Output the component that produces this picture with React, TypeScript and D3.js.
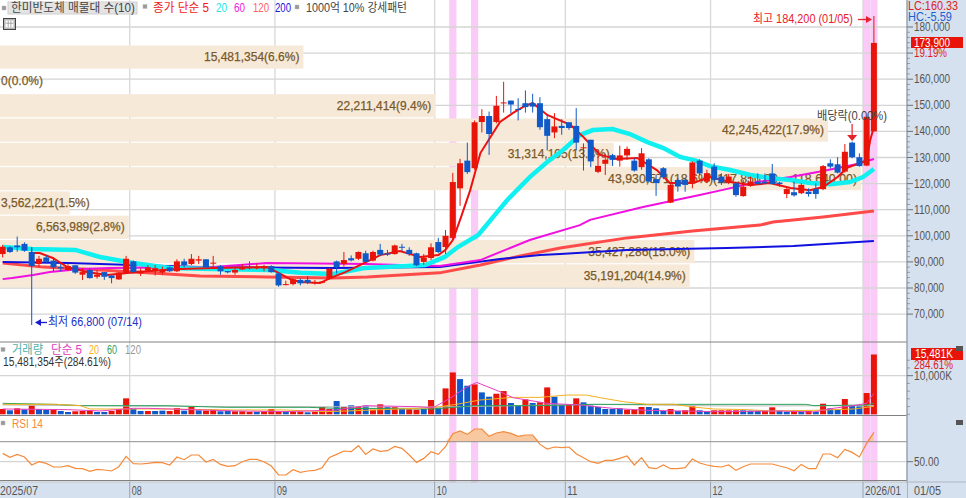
import React from "react";
import * as d3 from "d3";

const opens = [
93.0,95.6,96.3,96.9,93.8,89.2,91.7,90.5,88.0,86.9,
88.7,85.1,86.9,84.3,86.1,84.8,83.3,85.9,90.2,85.6,
86.6,86.4,85.9,87.9,86.4,90.2,89.2,90.5,91.0,89.4,
88.4,86.5,85.9,87.1,87.7,87.7,87.7,88.4,85.6,81.3,
81.5,83.1,83.1,81.8,82.0,83.6,90.2,89.2,91.4,91.2,
93.3,90.5,94.6,93.3,93.0,95.8,94.6,93.3,90.0,91.5,
97.6,95.7,99.2,118.2,128.8,125.9,143.6,145.9,143.6,150.8,
151.8,148.6,150.8,150.8,150.8,144.7,139.6,142.1,143.5,142.1,
133.7,136.8,124.5,127.6,130.9,128.8,130.8,128.8,126.3,129.3,
121.7,125.9,112.7,121.4,121.4,120.1,128.8,120.8,126.5,122.7,
120.4,120.1,115.2,119.1,120.7,120.7,123.9,120.4,116.0,116.7,
116.3,116.9,117.9,117.9,127.8,127.4,124.6,135.7,130.1,126.9,
140.0];
const closes = [
95.8,93.8,95.6,94.3,88.4,91.2,90.0,87.9,87.5,88.4,
85.9,86.1,83.8,85.1,84.3,83.8,85.9,91.2,86.1,86.6,
87.9,87.6,87.1,86.4,90.2,88.7,91.2,91.0,87.9,89.7,
86.4,86.0,86.9,87.9,87.9,87.9,87.9,86.1,81.0,81.5,
83.3,81.8,82.0,82.2,82.5,87.4,87.9,90.7,90.6,93.8,
90.0,93.8,92.8,92.8,96.3,95.6,93.0,88.7,91.7,95.6,
93.8,100.0,120.6,127.8,124.4,143.5,145.9,139.0,149.8,151.1,
150.3,148.2,149.3,149.5,141.6,138.3,141.9,141.3,141.3,135.7,
133.9,128.5,126.8,129.1,129.1,130.8,133.3,125.0,131.6,120.8,
120.2,122.4,119.5,118.9,119.5,128.1,123.9,124.0,121.4,120.4,
122.7,115.6,118.8,120.7,119.8,120.1,119.8,119.8,117.9,115.5,
119.5,116.0,116.0,126.7,126.5,124.2,132.2,130.1,126.7,145.6,
173.9];
const highs = [
96.5,96.0,99.7,97.5,95.6,92.3,92.6,91.7,89.2,89.4,
88.7,87.5,87.7,86.9,86.1,84.8,86.1,92.3,90.5,87.5,
88.8,88.8,88.2,88.2,91.0,91.2,93.0,92.3,91.0,92.3,
88.8,86.5,87.5,89.2,90.2,89.4,88.9,88.7,85.9,82.8,
83.7,83.6,84.6,83.1,82.5,87.7,90.5,93.8,92.5,94.0,
94.3,94.3,96.9,94.6,96.6,96.9,95.6,93.5,93.0,97.1,
99.2,102.2,124.1,129.5,135.7,144.2,148.5,147.6,153.6,159.0,
151.8,152.7,155.7,154.4,153.1,146.3,147.0,144.7,143.5,148.9,
135.4,136.8,132.9,131.4,131.4,134.5,134.2,129.7,133.6,129.7,
123.3,126.3,119.9,122.1,122.1,128.5,129.3,125.3,127.8,123.9,
123.7,120.7,121.4,122.7,123.9,123.9,127.5,120.7,118.8,120.7,
120.1,118.2,120.1,127.1,129.3,130.1,135.2,136.1,131.6,145.6,
184.2];
const lows = [
91.7,93.4,93.9,93.9,88.2,87.9,89.4,86.3,86.3,86.6,
85.4,83.1,83.6,83.6,83.1,81.8,83.1,85.4,85.6,84.6,
86.4,84.8,85.1,86.1,86.1,87.9,88.8,89.2,87.9,87.9,
85.1,85.6,85.1,86.9,87.1,87.1,86.4,85.9,80.5,81.0,
81.0,81.0,81.5,81.3,81.8,83.3,85.6,88.2,90.2,90.7,
89.7,90.2,92.3,92.3,92.8,94.0,92.3,88.4,88.9,90.7,
93.4,93.0,98.5,111.5,123.7,125.3,139.6,131.0,143.1,147.2,
147.0,144.2,147.2,147.2,140.6,132.7,137.4,138.7,140.6,132.7,
125.0,126.3,124.0,123.3,126.8,126.5,129.1,124.6,125.3,120.4,
115.3,121.7,112.5,116.9,116.9,118.2,123.3,120.2,120.7,119.5,
119.8,115.0,115.0,118.8,119.5,119.8,119.8,118.8,114.4,115.0,
116.0,115.0,114.2,117.5,125.8,123.9,124.2,129.7,126.5,126.7,
140.0];

const ma5Idx = [3.9,5.1,6.9,8.9,11.6,14.4,17.5,20.3,24.4,29,36.4,37.8,39.6,41,43.7,45.1,47.2,49.2,52,54.7,57.5,60,61,62,63,64.4,65.8,68.5,70.3,71.7,73,75,78.2,80,82.3,84.6,87.4,90.1,91.9,95.1,97.4,100.2,103,105.7,108.5,111.2,113,115,116.3,118.1,119,119.5,120];
const ma5Val = [93.4,93.4,91.5,88,86.1,85,85.8,86.5,87.3,87.7,88,86.1,83.4,82.3,81.9,83.8,86.1,88.8,92.6,94.2,91.9,92.6,94.6,98.4,106.1,117.5,131.7,143.6,147.1,149.4,150.9,146.3,142.5,137.8,131,129.4,129.8,125.2,120.2,120.2,122.5,120.6,119.5,120.2,118.3,117.5,118.7,122.5,126,127.9,129,136.7,141.7];
const ma20Idx = [0,4,10,13.4,18,23,29,37,41,45.5,50,58.2,60.9,62.7,65.5,67.8,69.5,72.6,75,77.2,79.5,81.3,84,86.4,88.8,91,93.3,95.6,97.4,100.2,103,105.7,108.5,111.2,114,116.7,118.5,120];
const ma20Val = [95.7,94.9,94.6,91.9,89.6,87.7,87.3,86.9,85.8,85.4,87.7,88.8,91.9,95.7,100.3,108,113.7,122.5,128.3,132.9,138.6,140.5,140.9,139,135.9,133.6,130.2,128.7,126.7,125.2,123.3,122.1,121.4,120.2,119.8,120.6,122.5,125.6];
const ma60Idx = [0,1.3,4.2,6.5,10.7,14.8,29,36.4,50.2,60.2,65.8,72.6,79.5,80.9,88.2,96,99.2,103.9,108.5,113,117.7,120];
const ma60Val = [83.4,83.8,85,86.1,87.3,87.7,88,89.6,89.2,88.4,90.7,98.4,104.1,106.1,111,115.6,117.6,120.6,122.5,124.8,127.5,129.4];
const ma120Idx = [0,5.6,13.4,19.9,27.2,36.4,45.5,50.2,60.2,65.8,71.3,76.8,86,95,104.3,106.1,113,120];
const ma120Val = [89.6,88,86.9,85.8,84.6,84.2,83.8,84.2,85.8,88.8,92.3,95.3,99.2,101.8,104.1,105.3,107.2,109.5];
const ma200Idx = [0,9,18,27,45.5,60.2,68.5,74,76.8,86,99.8,108.9,120];
const ma200Val = [90,89.6,88.8,88,87.7,88,91.1,92.6,93,94.6,95.3,96.1,98];

const volumes = [
1376,1032,1548,1290,2322,1376,1118,1376,860,602,
774,860,1032,602,602,860,1376,4128,1376,860,
860,860,946,860,1634,946,1892,1032,946,1204,
774,946,774,774,602,602,774,1376,688,774,
688,688,516,688,1892,1376,3440,1892,2322,1978,
2236,1204,2580,1892,1892,1376,1290,1204,1376,3698,
1720,6708,10836,9116,7396,7740,5676,4558,5332,6020,
2924,2236,3870,2924,3096,6966,4558,2408,2666,4128,
3096,2236,1892,1376,1376,1548,1204,1204,1892,1892,
1548,860,1376,860,1032,2064,1032,688,1032,1032,
1032,1032,1032,946,946,946,1806,946,688,946,
688,860,688,2752,1548,1204,3956,2236,2064,5504,
15481];
const volumeDirection =
"rbrbrbbrbb"+"rrrbbrrrbb"+"rbbrrbrbrr"+"bbrrrbrrrb"+"rrbrrrbrbr"+"brrbrbrrbr"+"brrbbr"+"bbrr"+
"bbrbrrbbrr"+"bbbbbbrrrb"+"bbrbrrbbrr"+"rrbbbrrbbr"+"brbrbbrbbrr";

const vol5Idx = [0,9,13.4,18,20,32,39,46,50,57,59.3,61.6,64,65.3,68.5,70.3,75,79.5,84,88.7,98,107,111.7,114.4,117.2,119,120];
const vol5Val = [1376,1204,860,1548,1548,860,688,1118,2236,1978,1720,4128,7138,8256,5848,4300,2838,2408,1548,1032,688,860,602,1548,2236,2838,5418];
const vol20Idx = [0,7.4,10.7,12,22.6,31.8,38.7,44.6,50,59.3,62.5,65.75,70.3,74,77.7,80.4,82.3,85.5,88.7,92.4,95.1,97.9,102.5,105.7,111.7,117.2,120];
const vol20Val = [2580,2580,2236,1376,1376,1118,1118,688,1032,1720,2580,3698,4386,4386,4988,4988,4300,3268,2580,2580,1892,1376,1204,860,1032,1376,2064];
const vol60Idx = [0,7,11,22.6,30.7,42,46,59.3,65,74,81.4,88.7,110.7,111.7,119,120];
const vol60Val = [2838,2580,2236,2236,1806,1806,1548,1376,2236,2236,2580,2580,2580,2236,2408,2838];
const vol120Idx = [0,22,60,81,100,120];
const vol120Val = [2408,2064,1892,2580,2150,2236];

const rsi = [
58.3,54.3,57.3,54.7,46.7,50,48.3,44.7,44.7,46,43.3,43,40.3,42.3,41.7,40.7,45,55.3,48,47.7,
48.3,49.3,49,46.7,54.7,52,56.7,56.7,49.7,52.3,47.3,45.3,46,50,52.3,52.3,50,45.7,36.7,36.7,
42,39.3,40.7,41.3,44,54.3,57.3,60.7,60,66,57.3,62.7,60.3,61,65.3,63.3,56.7,49.3,53.3,60,
57.3,65,78,80.7,77.3,82.7,82.7,75.3,78.7,80,78.3,75.3,76.7,76.7,67.3,62.7,64.7,64,64.7,58,
54,50,48.3,51.3,51.3,53.3,55.7,46.7,54,44,43,46.7,43,43,44,52.7,48.7,46.7,45.3,44.7,46.7,
41.3,45,47.7,47.7,47.7,47.7,45.7,44,41,47.3,43,43,57.7,57.7,54,62.3,59.3,54.7,68.3,79.3];

const monthStarts = [18, 38, 60, 78, 98, 119];
const monthLabels = ["08", "09", "10", "11", "12", "2026/01"];
const patternDays = [62, 65, 119, 120];
const priceTicks = [70, 80, 90, 100, 110, 120, 130, 140, 150, 160, 170, 180];

const profileVolumes = [15481354, 0, 22211414, 42245422, 31314105, 43930571, 3562221, 6563989, 35427286, 35191204];
const profileLabels = [
  "15,481,354(6.6%)", "0(0.0%)", "22,211,414(9.4%)", "42,245,422(17.9%)", "31,314,105(13.3%)",
  "43,930,571(18.6%)(117,850.00 ~ 118,640.00)", "3,562,221(1.5%)", "6,563,989(2.8%)", "35,427,286(15.0%)", "35,191,204(14.9%)",
];

const W = 966, H = 498;
const PLOT_R = 907;
const FONT = "'Liberation Sans','Noto Sans CJK KR',sans-serif";
const RED = "#e8140a", BLUE = "#0f5ac8";

const x = d3.scaleLinear().domain([0, 120]).range([2.67, 873.9]);
const y = d3.scaleLinear().domain([70, 180]).range([314.1, 27]);
const yVol = d3.scaleLinear().domain([0, 15481]).range([414.3, 354.5]);
const yRsi = d3.scaleLinear().domain([50, 70]).range([461.7, 441.7]);
const profW = d3.scaleLinear().domain([0, 42245422]).range([0, 828]);
const profY = d3.scaleBand<number>().domain(d3.range(10)).range([45.5, 287.5]).paddingInner(0.05);
const step = x(1) - x(0);

type Pt = [number, number];
const zip = (a: number[], b: number[]): Pt[] => a.map((v, i) => [v, b[i]]);
const lineP = d3.line<Pt>().x(d => x(d[0])).y(d => y(d[1]));
const lineV = d3.line<Pt>().x(d => x(d[0])).y(d => yVol(d[1]));
const rsiLine = d3.line<number>().x((_, i) => x(i)).y(d => yRsi(d));
const rsiArea = d3.area<number>().x((_, i) => x(i)).y0(yRsi(70)).y1(d => yRsi(Math.max(d, 70)));

function T(p: { x: number; y: number; w?: number; fill?: string; size?: number; anchor?: string; weight?: number; stroke?: number; children: any }) {
  const extra: any = p.w ? { textLength: p.w, lengthAdjust: "spacingAndGlyphs" } : {};
  return (
    <text x={p.x} y={p.y} fill={p.fill ?? "#444"} fontSize={p.size ?? 12} fontFamily={FONT}
      textAnchor={(p.anchor ?? "start") as any} dominantBaseline="central"
      stroke={p.stroke ? p.fill : undefined} strokeWidth={p.stroke} {...extra}>{p.children}</text>
  );
}
const Sq = ({ x: sx, y: sy }: { x: number; y: number }) => (
  <rect x={sx} y={sy} width={4} height={4} fill="#999" stroke="#bbb" strokeWidth={0.5} />
);

export default function App() {
  const fmt = d3.format(",");
  return (
    <svg width={W} height={H} viewBox={`0 0 ${W} ${H}`} style={{ position: "absolute", left: 0, top: 0, background: "#fff" }}>
      {/* pattern highlights */}
      {patternDays.map(d => (
        <rect key={d} x={x(d) - step / 2} y={0} width={step} height={482.5} fill="#fbcbf8" />
      ))}

      {/* grid */}
      {priceTicks.map(t => <line key={t} x1={0} x2={PLOT_R} y1={y(t)} y2={y(t)} stroke="#d4d4d4" strokeWidth={1.3} />)}
      <line x1={0} x2={PLOT_R} y1={yVol(10000)} y2={yVol(10000)} stroke="#d4d4d4" strokeWidth={1.3} />
      <line x1={0} x2={PLOT_R} y1={yRsi(50)} y2={yRsi(50)} stroke="#d4d4d4" strokeWidth={1.3} />
      {monthStarts.map(m => (
        <line key={m} x1={x(m) - step / 2} x2={x(m) - step / 2} y1={0} y2={482} stroke="#d8d8d8" strokeWidth={1.3} />
      ))}

      {/* volume profile */}
      {profileVolumes.map((v, i) => {
        const w = profW(v);
        const label = profileLabels[i];
        const wide = w > label.length * 5.95 + 4;
        const fitted = label.length > 30;
        return (
          <g key={i}>
            <rect x={0} y={profY(i)!} width={w} height={profY.bandwidth()} fill="#f6e9d8" />
            <T x={fitted ? w - 253 : wide ? w - 4 : 1} y={profY(i)! + profY.bandwidth() / 2} anchor={fitted || !wide ? "start" : "end"} w={fitted ? 249 : undefined} fill="#79592a" stroke={0.25}>
              {label}
            </T>
          </g>
        );
      })}

      {/* moving averages */}
      <path d={lineP(zip(ma120Idx, ma120Val))!} fill="none" stroke="#ff4a4a" strokeWidth={3} />
      <path d={lineP(zip(ma200Idx, ma200Val))!} fill="none" stroke="#1010e0" strokeWidth={2} />
      <path d={lineP(zip(ma60Idx, ma60Val))!} fill="none" stroke="#f010e0" strokeWidth={2} />
      <path d={lineP(zip(ma20Idx, ma20Val))!} fill="none" stroke="#10f0f0" strokeWidth={4.5} />
      <path d={lineP(zip(ma5Idx, ma5Val))!} fill="none" stroke="#ee1010" strokeWidth={2} />

      {/* candles */}
      {closes.map((c, i) => {
        const up = c >= opens[i];
        const col = up ? RED : BLUE;
        const top = y(Math.max(c, opens[i]));
        const bot = y(Math.min(c, opens[i]));
        return (
          <g key={i}>
            <line x1={x(i)} x2={x(i)} y1={y(highs[i])} y2={y(lows[i])} stroke={col} strokeWidth={1} />
            <rect x={x(i) - 3} y={top} width={6} height={Math.max(1, bot - top)} fill={col} />
          </g>
        );
      })}

      {/* price annotations */}
      <T x={753} y={19} w={100} fill="#e8202a">최고 184,200 (01/05)</T>
      <line x1={858} x2={867} y1={19.5} y2={19.5} stroke="#e8202a" strokeWidth={1.3} />
      <path d="M866,16 L872,19.5 L866,23 Z" fill="#e8202a" />
      <line x1={x(4)} x2={x(4)} y1={y(highs[4])} y2={325} stroke="#1a50c0" strokeWidth={1} />
      <path d="M35,322.5 L41,319 L41,326 Z" fill="#1a1ad0" />
      <line x1={40} x2={47} y1={322.5} y2={322.5} stroke="#1a1ad0" strokeWidth={1.3} />
      <T x={48} y={322} w={94} fill="#2030c8">최저 66,800 (07/14)</T>
      <T x={817} y={116} w={70} fill="#444">배당락(0.00%)</T>
      <line x1={x(117)} x2={x(117)} y1={124} y2={136} stroke="#e8202a" strokeWidth={1.2} />
      <path d={`M${x(117) - 5},135 L${x(117) + 5},135 L${x(117)},141 Z`} fill="#e8202a" />

      {/* volume pane */}
      {volumes.map((v, i) => (
        <rect key={i} x={x(i) - 3} y={yVol(v)} width={6} height={yVol(0) - yVol(v)} fill={volumeDirection[i] === "r" ? RED : BLUE} />
      ))}
      <path d={lineV(zip(vol120Idx, vol120Val))!} fill="none" stroke="#bdbdbd" strokeWidth={1} />
      <path d={lineV(zip(vol60Idx, vol60Val))!} fill="none" stroke="#2aa058" strokeWidth={1} />
      <path d={lineV(zip(vol20Idx, vol20Val))!} fill="none" stroke="#f5b020" strokeWidth={1} />
      <path d={lineV(zip(vol5Idx, vol5Val))!} fill="none" stroke="#ea40c0" strokeWidth={1} />

      {/* RSI pane */}
      <path d={rsiArea(rsi)!} fill="#f8c8a0" />
      <line x1={0} x2={PLOT_R} y1={yRsi(70)} y2={yRsi(70)} stroke="#8f8f8f" />
      <path d={rsiLine(rsi)!} fill="none" stroke="#f58a3a" strokeWidth={1.2} />

      {/* pane dividers */}
      <line x1={0} x2={PLOT_R} y1={342} y2={342} stroke="#808080" />
      <line x1={0} x2={PLOT_R} y1={415.5} y2={415.5} stroke="#808080" />
      <line x1={0} x2={PLOT_R} y1={480.5} y2={480.5} stroke="#808080" />

      {/* right axis panel */}
      <rect x={PLOT_R} y={0} width={W - PLOT_R} height={H} fill="#d6e1ef" />
      <line x1={PLOT_R} x2={PLOT_R} y1={0} y2={H} stroke="#9aa3ae" strokeWidth={1.5} />
      <rect x={0} y={482.5} width={PLOT_R} height={H - 482.5} fill="#d6e1ef" />
      <line x1={0} x2={W} y1={482} y2={482} stroke="#aeb6c0" />
      {d3.range(70, 182, 2).map(t => (
        <line key={t} x1={PLOT_R} x2={PLOT_R + (t % 10 === 0 ? 6 : 3)} y1={y(t)} y2={y(t)} stroke="#707070" strokeWidth={t % 10 === 0 ? 1 : 0.6} />
      ))}
      {priceTicks.filter(t => t !== 170).map(t => (
        <T key={t} x={914} y={y(t)} w={t >= 100 ? 36 : 30} fill="#555">{fmt(t * 1000)}</T>
      ))}
      <T x={908} y={6} w={50} fill="#e02020">LC:160.33</T>
      <T x={908} y={17} w={44} fill="#2060d0">HC:-5.59</T>
      <rect x={911} y={37} width={52} height={11} fill={RED} />
      <T x={914} y={42.5} w={36} fill="#fff">173,900</T>
      <T x={914} y={53} w={33} fill="#e02020">19.19%</T>

      {d3.range(0, 16000, 2000).map(t => (
        <line key={t} x1={PLOT_R} x2={PLOT_R + (t === 10000 ? 6 : 3)} y1={yVol(t)} y2={yVol(t)} stroke="#707070" strokeWidth={t === 10000 ? 1 : 0.6} />
      ))}
      <rect x={911} y={348} width={52} height={12} fill={RED} />
      <T x={915} y={354} w={38} fill="#fff">15,481K</T>
      <T x={914} y={365} w={39} fill="#e02020">284.61%</T>
      <T x={914} y={375.5} w={38} fill="#555">10,000K</T>
      <line x1={PLOT_R} x2={PLOT_R + 6} y1={yRsi(50)} y2={yRsi(50)} stroke="#707070" />
      <T x={914} y={yRsi(50)} w={25} fill="#555">50.00</T>
      <rect x={956} y={346} width={7} height={5} fill="#555" />
      <rect x={956} y={420} width={7} height={5} fill="#555" />

      {/* bottom axis */}
      <T x={0} y={490.5} w={38} fill="#555">2025/07</T>
      {monthStarts.map((m, i) => (
        <g key={m}>
          <line x1={x(m) - step / 2} x2={x(m) - step / 2} y1={482} y2={H} stroke="#9aa3ae" />
          <T x={x(m) - step / 2 + 2} y={490.5} w={monthLabels[i].length > 2 ? 36 : 10} fill="#555">{monthLabels[i]}</T>
        </g>
      ))}
      <T x={914} y={490.5} w={27} fill="#555">01/05</T>

      {/* main legend */}
      <Sq x={2} y={6} />
      <rect x={8} y={2} width={129} height={12} fill="#e4e4e4" stroke="#cfcfcf" />
      <T x={11} y={8} w={124} fill="#444">한미반도체 매물대 수(10)</T>
      <Sq x={143} y={4.5} />
      <T x={153} y={8} w={56} fill="#f01818">종가 단순 5</T>
      <T x={216} y={8} w={11} fill="#22e6e6">20</T>
      <T x={234} y={8} w={11} fill="#f020e0">60</T>
      <T x={253} y={8} w={16} fill="#ff6060">120</T>
      <T x={275} y={8} w={16} fill="#1414e0">200</T>
      <Sq x={295} y={5} />
      <T x={306} y={8} w={101} fill="#444">1000억 10% 강세패턴</T>
      <g>
        <rect x={3.5} y={18.5} width={12} height={11} fill="#b8b8b8" stroke="#444" />
        <rect x={5.5} y={20.5} width={8} height={7} fill="#fff" />
        <line x1={8.2} x2={8.2} y1={20.5} y2={27.5} stroke="#888" strokeWidth={0.7} />
        <line x1={10.9} x2={10.9} y1={20.5} y2={27.5} stroke="#888" strokeWidth={0.7} />
        <line x1={5.5} x2={13.5} y1={23.2} y2={23.2} stroke="#888" strokeWidth={0.7} />
      </g>

      {/* volume legend */}
      <Sq x={1} y={347.5} />
      <T x={12} y={350} w={31} fill="#4fb0a8">거래량</T>
      <T x={51} y={350} w={31} fill="#e040c0">단순 5</T>
      <T x={89} y={350} w={10} fill="#ffb020">20</T>
      <T x={107} y={350} w={10} fill="#30a060">60</T>
      <T x={125} y={350} w={16} fill="#999">120</T>
      <T x={3} y={362} w={108} fill="#333">15,481,354주(284.61%)</T>

      {/* RSI legend */}
      <Sq x={1} y={421} />
      <T x={12} y={424} w={31} fill="#f58a3a">RSI 14</T>
    </svg>
  );
}
